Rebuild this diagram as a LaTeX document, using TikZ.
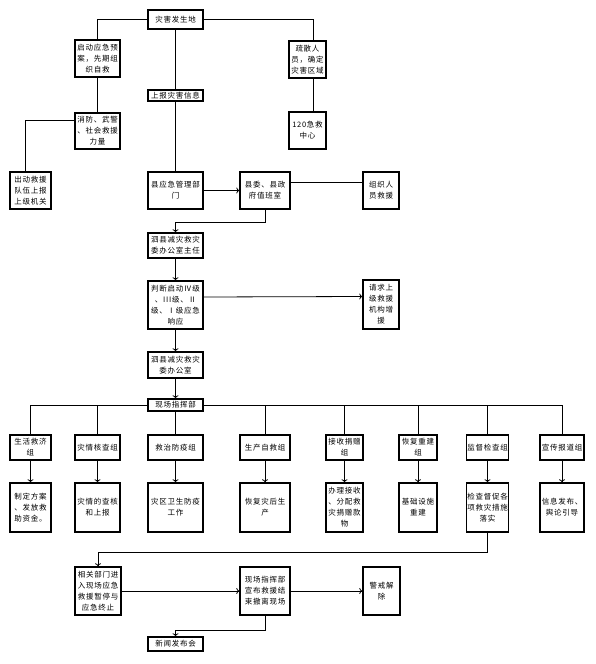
\documentclass[tikz,border=0pt]{standalone}
\usepackage{fontspec}
\newfontfamily\cjk[LetterSpace=10]{Noto Sans CJK SC}
\usetikzlibrary{arrows.meta}
\tikzset{every picture/.style={line width=0.8pt}}

\begin{document}
\begin{tikzpicture}[x=1pt, y=-1pt, >={To[length=3pt,width=6pt]},
    box/.style={draw, line width=1.4pt, inner sep=0.5pt, align=center,
                font=\cjk\fontsize{7.5}{11}\selectfont}]
        \useasboundingbox (0,0) rectangle (595,664);
        % 上部
        \node[box, minimum width=55, minimum height=19] (zhd) at (175.5, 19.5) {灾害发生地};
        \node[box, minimum width=45, minimum height=37] (qd)  at (97.5, 58.5)  {启动应急预\\案，先期组\\织自救};
        \node[box, minimum width=37, minimum height=37] (ss)  at (307.5, 59.5) {疏散人\\员，确定\\灾害区域};
        \node[box, minimum width=55, minimum height=11] (sb)  at (175.5, 95.5) {上报灾害信息};
        \node[box, minimum width=45, minimum height=36] (xf)  at (97.5, 131)   {消防、武警\\、社会救援\\力量};
        \node[box, minimum width=37, minimum height=37] (jj)  at (307.5, 130.5) {120急救\\中心};
        \node[box, minimum width=41, minimum height=37] (cd)  at (30.5, 190.5)  {出动救援\\队伍上报\\上级机关};
        \node[box, minimum width=55, minimum height=37] (xgl) at (175.5, 190.5) {县应急管理部\\门};
        \node[box, minimum width=50, minimum height=37] (xw)  at (265, 190.5)   {县委、县政\\府值班室};
        \node[box, minimum width=36, minimum height=37] (zz)  at (381, 190.5)   {组织人\\员救援};
        % 中部
        \node[box, minimum width=55, minimum height=25] (zr)  at (175.5, 245.5) {泗县减灾救灾\\委办公室主任};
        \node[box, minimum width=55, minimum height=48] (pd)  at (175.5, 305)   {判断启动Ⅳ级\\、III级、Ⅱ\\级、Ⅰ级应急\\响应};
        \node[box, minimum width=36, minimum height=49] (qq)  at (381, 304.5)   {请求上\\级救援\\机构增\\援};
        \node[box, minimum width=55, minimum height=26] (bgs) at (175.5, 365)   {泗县减灾救灾\\委办公室};
        \node[box, minimum width=55, minimum height=12] (zh)  at (175.5, 405)   {现场指挥部};
        % 各工作组
        \node[box, minimum width=41, minimum height=25] (g1) at (30.5, 447.5)  {生活救济\\组};
        \node[box, minimum width=45, minimum height=25] (g2) at (97.5, 447.5)  {灾情核查组};
        \node[box, minimum width=55, minimum height=25] (g3) at (175.5, 447.5) {救治防疫组};
        \node[box, minimum width=50, minimum height=25] (g4) at (265, 447.5)   {生产自救组};
        \node[box, minimum width=37, minimum height=25] (g5) at (344.5, 447.5) {接收捐赠\\组};
        \node[box, minimum width=38, minimum height=25] (g6) at (418, 447.5)   {恢复重建\\组};
        \node[box, minimum width=41, minimum height=25] (g7) at (487.5, 447.5) {监督检查组};
        \node[box, minimum width=44, minimum height=25] (g8) at (562, 447.5)   {宣传报道组};
        \node[box, minimum width=41, minimum height=49] (t1) at (30.5, 507.5)  {制定方案\\、发放救\\助资金。};
        \node[box, minimum width=45, minimum height=49] (t2) at (97.5, 507.5)  {灾情的查核\\和上报};
        \node[box, minimum width=55, minimum height=49] (t3) at (175.5, 507.5) {灾区卫生防疫\\工作};
        \node[box, minimum width=50, minimum height=49] (t4) at (265, 507.5)   {恢复灾后生\\产};
        \node[box, minimum width=37, minimum height=49] (t5) at (344.5, 507.5) {办理接收\\、分配救\\灾捐赠款\\物};
        \node[box, minimum width=38, minimum height=49] (t6) at (418, 507.5)   {基础设施\\重建};
        \node[box, minimum width=41, minimum height=49] (t7) at (487.5, 507.5) {检查督促各\\项救灾措施\\落实};
        \node[box, minimum width=44, minimum height=49] (t8) at (562, 507.5)   {信息发布、\\舆论引导};
        % 结束阶段
        \node[box, minimum width=46, minimum height=48] (xg)  at (98, 591)    {相关部门进\\入现场应急\\救援暂停与\\应急终止};
        \node[box, minimum width=50, minimum height=48] (xb)  at (265, 591)   {现场指挥部\\宣布救援结\\束撤离现场};
        \node[box, minimum width=37, minimum height=48] (jx)  at (381.5, 591) {警戒解\\除};
        \node[box, minimum width=55, minimum height=14] (xwf) at (175.5, 644) {新闻发布会};
        \coordinate (k1) at (265, 222);
        \coordinate (k2) at (487.5, 552);
        \coordinate (k3) at (265, 630);
        % 连线
        \draw (zhd.west) -| (qd.north);
        \draw (zhd.east) -| ([xshift=5.5]ss.north);
        \draw (zhd) -- (sb);
        \draw (sb) -- (xgl);
        \draw (qd) -- (xf);
        \draw ([xshift=5.5]ss.south) -- ([xshift=5.5]jj.north);
        \draw ([yshift=11]xf.west) -| ([xshift=-5.5]cd.north);
        \draw[->] (xgl) -- (xw);
        \draw ([yshift=8]xw.east) -- ([yshift=8]zz.west);
        \draw[->] (xw.south) -- (k1) -| (zr.north);
        \draw[->] (zr) -- (pd);
        \draw[->] ([yshift=8]pd.east) -- ([yshift=8]qq.west);
        \draw[->] (pd) -- (bgs);
        \draw[->] (bgs) -- (zh);
        \draw (zh.west) -| (g1.north);
        \draw (zh.east) -| (g8.north);
        \draw (zh) -- (g3);
        \foreach \g in {g2, g4, g5, g6, g7}
            \draw (\g.north) -- (\g.north |- zh.east);
        \foreach \i in {1,...,8}
            \draw[->] (g\i) -- (t\i);
        \draw[->] (t7.south) -- (k2) -| (xg.north);
        \draw[->] (xg) -- (xb);
        \draw[->] (xb) -- (jx);
        \draw[->] (xb.south) -- (k3) -| (xwf.north);
    \end{tikzpicture}
\end{document}
